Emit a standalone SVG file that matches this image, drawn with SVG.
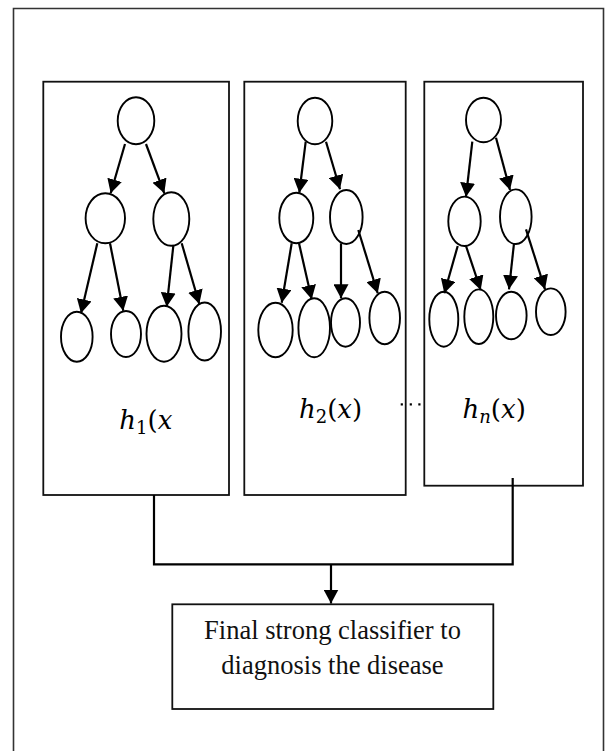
<svg xmlns="http://www.w3.org/2000/svg" width="608" height="751" viewBox="0 0 608 751">
<style>
.box{fill:none;stroke:#111;stroke-width:1.8}
.frame{fill:none;stroke:#333;stroke-width:1.6}
.nd{fill:#fff;stroke:#000;stroke-width:1.9}
.ed{fill:none;stroke:#000;stroke-width:2.2}
.lbl{font-family:"DejaVu Serif","Liberation Serif",serif;font-size:26px;fill:#000}
.cap{font-family:"Liberation Serif","Times New Roman",serif;font-size:26.5px;fill:#111;text-anchor:middle}
</style>
<defs>
<marker id="ah" markerUnits="userSpaceOnUse" markerWidth="15" markerHeight="15" refX="14" refY="7.5" orient="auto">
<path d="M0,0 L14,7.5 L0,15 z" fill="#000"/>
</marker>
</defs>
<rect width="608" height="751" fill="#fff"/>
<path class="frame" d="M13.5,751 V8.5 H603.5 V751"/>

<g id="tree1">
<rect class="box" x="43.3" y="81.7" width="185.7" height="413.3"/>
<ellipse class="nd" cx="136" cy="120.8" rx="18.3" ry="23.5"/>
<ellipse class="nd" cx="105.3" cy="218.3" rx="19.7" ry="25"/>
<ellipse class="nd" cx="171.3" cy="219" rx="18" ry="26.8"/>
<ellipse class="nd" cx="76.8" cy="336.7" rx="15.8" ry="25"/>
<ellipse class="nd" cx="126" cy="334" rx="15" ry="23"/>
<ellipse class="nd" cx="164" cy="333.7" rx="17.5" ry="28"/>
<ellipse class="nd" cx="204.7" cy="331.5" rx="16.3" ry="29"/>
<text class="lbl" x="119.3" y="429"><tspan font-style="italic">h</tspan><tspan font-size="18" dy="5">1</tspan><tspan dy="-5">(</tspan><tspan font-style="italic">x</tspan></text>
</g>

<g id="tree2">
<rect class="box" x="244.3" y="81.7" width="161.4" height="413.3"/>
<ellipse class="nd" cx="315" cy="121" rx="17.3" ry="23.3"/>
<ellipse class="nd" cx="296.3" cy="218" rx="17" ry="25.3"/>
<ellipse class="nd" cx="346.3" cy="217" rx="16.3" ry="27"/>
<ellipse class="nd" cx="275.5" cy="330" rx="17.2" ry="27.3"/>
<ellipse class="nd" cx="314.2" cy="327.8" rx="15.8" ry="29.5"/>
<ellipse class="nd" cx="345.5" cy="322.5" rx="14.5" ry="24.2"/>
<ellipse class="nd" cx="384.7" cy="318" rx="15.3" ry="26.3"/>
<text class="lbl" x="299" y="418"><tspan font-style="italic">h</tspan><tspan font-size="18" dy="5">2</tspan><tspan dy="-5">(</tspan><tspan font-style="italic">x</tspan>)</text>
</g>

<g id="tree3">
<rect class="box" x="424.3" y="81.7" width="158.7" height="404"/>
<ellipse class="nd" cx="483.5" cy="120" rx="17.5" ry="22.3"/>
<ellipse class="nd" cx="464.5" cy="221.3" rx="16.2" ry="24.7"/>
<ellipse class="nd" cx="515.8" cy="216.7" rx="15.8" ry="27.3"/>
<ellipse class="nd" cx="443.8" cy="319.2" rx="14.5" ry="27.5"/>
<ellipse class="nd" cx="478.8" cy="316.7" rx="14.5" ry="27.3"/>
<ellipse class="nd" cx="511.3" cy="315.5" rx="15.3" ry="23.8"/>
<ellipse class="nd" cx="550.8" cy="311.7" rx="14.8" ry="23.3"/>
<text class="lbl" x="462.5" y="418"><tspan font-style="italic">h</tspan><tspan font-size="18" font-style="italic" dy="5">n</tspan><tspan dy="-5">(</tspan><tspan font-style="italic">x</tspan>)</text>
</g>

<g id="dots" fill="#000">
<rect x="400.7" y="403.3" width="2.2" height="2.2"/>
<rect x="409.7" y="403.3" width="2.2" height="2.2"/>
<rect x="418.3" y="403.3" width="2.2" height="2.2"/>
</g>

<g id="final">
<rect class="box" x="172.3" y="604.3" width="321" height="104.7"/>
<text class="cap" x="332.5" y="639">Final strong classifier to</text>
<text class="cap" x="332.5" y="674">diagnosis the disease</text>
</g>

<g id="connectors">
<line class="ed" x1="125" y1="144" x2="110.7" y2="193.3" marker-end="url(#ah)"/>
<line class="ed" x1="146" y1="144" x2="164.3" y2="193.3" marker-end="url(#ah)"/>
<line class="ed" x1="97.3" y1="243.3" x2="81" y2="313.3" marker-end="url(#ah)"/>
<line class="ed" x1="110" y1="243.3" x2="123.3" y2="310.7" marker-end="url(#ah)"/>
<line class="ed" x1="173.3" y1="246" x2="166.7" y2="306.7" marker-end="url(#ah)"/>
<line class="ed" x1="181.7" y1="243.3" x2="199.3" y2="304" marker-end="url(#ah)"/>

<line class="ed" x1="305.7" y1="141.7" x2="299.3" y2="192.7" marker-end="url(#ah)"/>
<line class="ed" x1="326" y1="141.7" x2="340" y2="189.3" marker-end="url(#ah)"/>
<line class="ed" x1="291.7" y1="243.3" x2="281.7" y2="302.7" marker-end="url(#ah)"/>
<line class="ed" x1="299" y1="243.3" x2="311.7" y2="299.3" marker-end="url(#ah)"/>
<line class="ed" x1="341" y1="243.3" x2="341" y2="298.3" marker-end="url(#ah)"/>
<line class="ed" x1="358.3" y1="230" x2="377.7" y2="293.3" marker-end="url(#ah)"/>

<line class="ed" x1="472.3" y1="141.7" x2="466" y2="196.7" marker-end="url(#ah)"/>
<line class="ed" x1="496" y1="137.7" x2="510" y2="190" marker-end="url(#ah)"/>
<line class="ed" x1="457.7" y1="246" x2="444.3" y2="293.3" marker-end="url(#ah)"/>
<line class="ed" x1="466" y1="246" x2="480.7" y2="290" marker-end="url(#ah)"/>
<line class="ed" x1="514" y1="243.3" x2="509" y2="289.3" marker-end="url(#ah)"/>
<line class="ed" x1="526" y1="229.3" x2="545" y2="289.3" marker-end="url(#ah)"/>

<path class="ed" d="M154,495 V564.3 H512.7 V478"/>
<line class="ed" x1="331" y1="564.3" x2="331" y2="603.5" marker-end="url(#ah)"/>
</g>
</svg>
